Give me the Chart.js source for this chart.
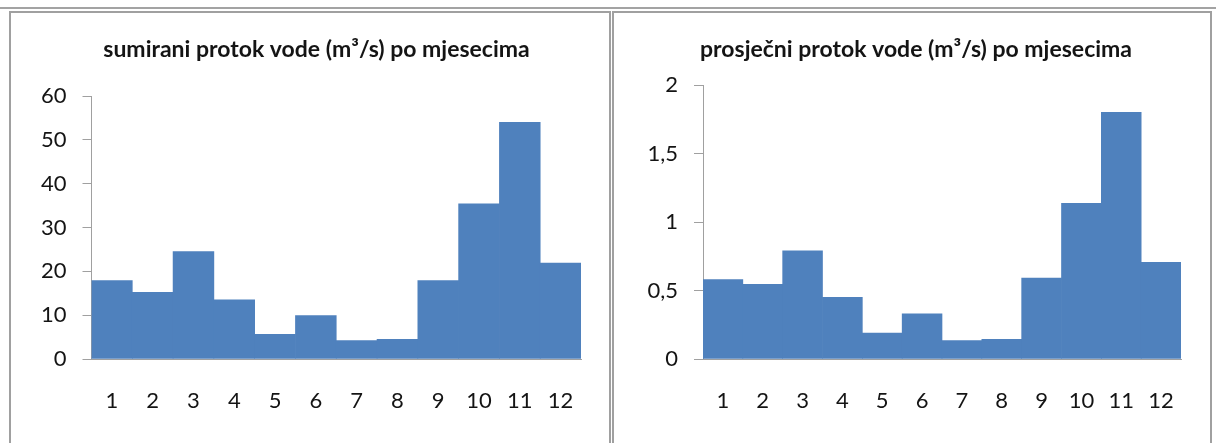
<!DOCTYPE html>
<html>
<head>
<meta charset="utf-8">
<script src="https://cdn.jsdelivr.net/npm/chart.js@4/dist/chart.umd.min.js"></script>
<style>
  html, body { margin: 0; padding: 0; background: #ffffff; }
  body { width: 1216px; height: 443px; position: relative; overflow: hidden; }
  .rule { position: absolute; left: 0; top: 7px; width: 1216px; height: 2px; background: #a3a3a3; }
  .panel { position: absolute; top: 11px; height: 440px; border: 2px solid #a0a0a0; border-bottom: none; box-sizing: border-box; }
  #p1 { left: 9px; width: 602px; }
  #p2 { left: 612px; width: 600px; }
  canvas { position: absolute; }
  #c1 { left: 12px; top: 14px; }
  #c2 { left: 614px; top: 14px; }
</style>
</head>
<body>
<div class="rule"></div>
<div class="panel" id="p1"></div>
<div class="panel" id="p2"></div>
<canvas id="c1" width="596" height="429" style="width:596px;height:429px"></canvas>
<canvas id="c2" width="596" height="429" style="width:596px;height:429px"></canvas>
<script>
// Mjeseci 1-12
const months = ['1', '2', '3', '4', '5', '6', '7', '8', '9', '10', '11', '12'];
// Sumirani protok vode po mjesecima (m3/s)
const sumFlow = [17.9, 15.2, 24.5, 13.5, 5.6, 9.9, 4.2, 4.5, 17.9, 35.4, 54.0, 21.9];
// Prosječni protok vode po mjesecima (m3/s)
const avgFlow = [0.58, 0.545, 0.79, 0.45, 0.19, 0.33, 0.134, 0.144, 0.59, 1.136, 1.80, 0.706];

const titleSum = 'sumirani protok vode (m\u00B3/s) po mjesecima';
const titleAvg = 'prosje\u010Dni protok vode (m\u00B3/s) po mjesecima';

const BAR = '#4f81bd';
const AXIS = '#a0a0a0';
const TEXT = '#141414';
const FONT = 'Lato, "Open Sans", sans-serif';

// Moves the left edge of the title box so the title centres over the plot block
const titleShift = {
  id: 'titleShift',
  afterLayout(chart, args, opts) {
    if (chart.titleBlock) chart.titleBlock.left = opts.left || 0;
  }
};

function makeChart(id, labels, values, title, yMax, yStep, geo) {
  return new Chart(document.getElementById(id), {
    type: 'bar',
    data: {
      labels: labels,
      datasets: [{
        data: values,
        backgroundColor: BAR,
        borderWidth: 0,
        categoryPercentage: 1.0,
        barPercentage: 1.0
      }]
    },
    plugins: [titleShift],
    options: {
      responsive: false,
      animation: false,
      events: [],
      layout: { padding: { left: 0, right: geo.padRight, top: 0, bottom: 0 } },
      plugins: {
        legend: { display: false },
        tooltip: { enabled: false },
        titleShift: { left: geo.titleLeft },
        title: {
          display: true,
          text: title,
          color: TEXT,
          font: { family: FONT, size: 23, weight: 'bold', lineHeight: 1.2 },
          padding: { top: geo.titleTop, bottom: geo.titleBottom }
        }
      },
      scales: {
        x: {
          grid: { display: false, drawTicks: false },
          border: { display: true, color: AXIS, width: 1 },
          ticks: {
            color: TEXT,
            padding: 29,
            maxRotation: 0,
            autoSkip: false,
            font: { family: FONT, size: 22, lineHeight: 1.2 }
          },
          afterFit: s => { s.height = 84; }
        },
        y: {
          min: 0,
          max: yMax,
          grid: { drawOnChartArea: false, drawTicks: true, tickLength: 9, color: AXIS },
          border: { display: true, color: AXIS, width: 1 },
          ticks: {
            stepSize: yStep,
            color: TEXT,
            padding: 16,
            font: { family: FONT, size: 22, lineHeight: 1.2 },
            callback: v => String(v).replace('.', ',')
          },
          afterFit: s => { s.width = geo.axisWidth; }
        }
      }
    }
  });
}

makeChart('c1', months, sumFlow, titleSum, 60, 10,
  { padRight: 27, axisWidth: 79.5, titleLeft: 40, titleTop: 22.2, titleBottom: 32.2 });
makeChart('c2', months, avgFlow, titleAvg, 2, 0.5,
  { padRight: 29, axisWidth: 89, titleLeft: 37, titleTop: 22.2, titleBottom: 21.2 });
</script>
</body>
</html>
